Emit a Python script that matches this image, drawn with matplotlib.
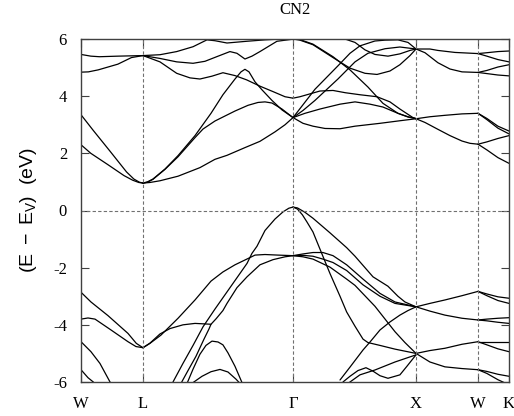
import numpy as np
import matplotlib
matplotlib.use("Agg")
import matplotlib.pyplot as plt

plt.rcParams["mathtext.fontset"] = "custom"
plt.rcParams["mathtext.rm"] = "Liberation Sans"
plt.rcParams["mathtext.it"] = "Liberation Sans:italic"

# ---- high-symmetry path ----
sym_k = [0.0, 0.504, 1.724, 2.724, 3.228, 3.48]
sym_labels = ["W", "L", "Γ", "X", "W", "K"]
y_ticks = [-6, -4, -2, 0, 2, 4, 6]
title = "CN2"
y_label = r"$\mathrm{(E\ -\ E_V)\ \ (eV)}$"

# ---- conduction bands (k, E) ----
cb_wl_1_k = [0.0, 0.08, 0.15, 0.30, 0.504]
cb_wl_1_e = [5.46, 5.40, 5.38, 5.40, 5.42]
cb_wl_2_k = [0.0, 0.06, 0.14, 0.30, 0.41, 0.504]
cb_wl_2_e = [4.84, 4.85, 4.92, 5.12, 5.35, 5.42]
cb_wl_3_k = [0.0, 0.10, 0.235, 0.37, 0.43, 0.475, 0.504]
cb_wl_3_e = [3.35, 2.80, 2.08, 1.35, 1.10, 0.99, 0.96]
cb_wl_4_k = [0.0, 0.08, 0.22, 0.35, 0.42, 0.47, 0.504]
cb_wl_4_e = [2.30, 2.00, 1.60, 1.22, 1.06, 0.98, 0.96]

cb_lg_1_k = [0.504, 0.642, 0.778, 0.911, 1.024, 1.089, 1.187, 1.347, 1.496, 1.724]
cb_lg_1_e = [5.42, 5.45, 5.56, 5.73, 5.97, 5.94, 5.86, 5.92, 5.97, 6.02]
cb_lg_2_k = [0.504, 0.642, 0.778, 0.911, 1.008, 1.103, 1.211, 1.268, 1.333, 1.390, 1.455, 1.593, 1.699, 1.724]
cb_lg_2_e = [5.42, 5.32, 5.20, 5.15, 5.22, 5.38, 5.56, 5.50, 5.30, 5.40, 5.56, 5.92, 5.98, 6.00]
cb_lg_3_k = [0.504, 0.642, 0.778, 0.886, 0.967, 1.065, 1.154, 1.252, 1.347, 1.455, 1.561, 1.659, 1.724]
cb_lg_3_e = [5.42, 5.20, 4.80, 4.64, 4.60, 4.70, 4.82, 4.72, 4.57, 4.35, 4.16, 3.98, 3.93]
cb_lg_4_k = [0.504, 0.54, 0.585, 0.683, 0.789, 0.927, 1.057, 1.154, 1.252, 1.301, 1.333, 1.366, 1.415, 1.472, 1.553, 1.634, 1.724]
cb_lg_4_e = [0.96, 1.00, 1.10, 1.45, 1.92, 2.62, 3.40, 4.05, 4.60, 4.85, 4.94, 4.85, 4.50, 4.22, 3.85, 3.52, 3.25]
cb_lg_5_k = [0.504, 0.54, 0.585, 0.683, 0.789, 0.927, 0.992, 1.089, 1.154, 1.252, 1.358, 1.439, 1.496, 1.553, 1.634, 1.724]
cb_lg_5_e = [0.96, 0.99, 1.09, 1.44, 1.88, 2.55, 2.85, 3.13, 3.27, 3.48, 3.68, 3.78, 3.80, 3.76, 3.55, 3.25]
cb_lg_6_k = [0.504, 0.56, 0.642, 0.789, 0.967, 1.089, 1.187, 1.333, 1.455, 1.577, 1.659, 1.724]
cb_lg_6_e = [0.96, 0.98, 1.04, 1.20, 1.50, 1.79, 1.93, 2.20, 2.42, 2.75, 3.00, 3.25]

cb_gx_1_k = [1.724, 1.78, 1.886, 2.049, 2.187, 2.333, 2.455, 2.577, 2.659, 2.724]
cb_gx_1_e = [6.02, 5.98, 5.82, 5.38, 4.92, 4.32, 3.75, 3.40, 3.27, 3.22]
cb_gx_2_k = [1.724, 1.78, 1.886, 2.049, 2.187, 2.309, 2.407, 2.512, 2.593, 2.675, 2.724]
cb_gx_2_e = [6.00, 5.96, 5.80, 5.35, 4.98, 4.80, 4.76, 4.88, 5.10, 5.42, 5.65]
cb_gx_3_k = [1.724, 1.78, 1.943, 2.049, 2.150, 2.268, 2.407, 2.512, 2.593, 2.699, 2.724]
cb_gx_3_e = [3.93, 3.98, 4.18, 4.20, 4.12, 4.05, 3.98, 3.80, 3.55, 3.25, 3.21]
cb_gx_4_k = [1.724, 1.821, 1.943, 2.106, 2.228, 2.350, 2.455, 2.577, 2.659, 2.724]
cb_gx_4_e = [3.25, 3.40, 3.55, 3.72, 3.80, 3.72, 3.62, 3.40, 3.28, 3.21]
cb_gx_5_k = [1.724, 1.805, 1.886, 1.984, 2.106, 2.228, 2.431, 2.593, 2.724]
cb_gx_5_e = [3.25, 3.05, 2.95, 2.87, 2.86, 2.95, 3.05, 3.14, 3.21]
cb_gx_6_k = [1.724, 1.805, 1.902, 2.089, 2.187, 2.268, 2.390, 2.472, 2.577, 2.659, 2.724]
cb_gx_6_e = [3.25, 3.70, 4.24, 5.06, 5.50, 5.76, 5.93, 5.96, 5.97, 5.88, 5.65]
cb_gx_7_k = [1.724, 1.805, 1.902, 2.089, 2.228, 2.333, 2.472, 2.593, 2.724]
cb_gx_7_e = [3.25, 3.50, 3.85, 4.60, 5.20, 5.50, 5.66, 5.72, 5.65]
cb_gx_8_k = [2.065, 2.146, 2.228, 2.309, 2.390, 2.496, 2.593, 2.675, 2.724]
cb_gx_8_e = [6.05, 6.00, 5.88, 5.62, 5.46, 5.40, 5.48, 5.60, 5.65]

cb_xw_1_k = [2.724, 2.837, 2.902, 3.041, 3.228]
cb_xw_1_e = [5.65, 5.65, 5.60, 5.53, 5.49]
cb_xw_2_k = [2.724, 2.797, 2.902, 3.0, 3.098, 3.228]
cb_xw_2_e = [5.65, 5.52, 5.17, 4.95, 4.85, 4.83]
cb_xw_3_k = [2.724, 2.837, 2.959, 3.098, 3.228]
cb_xw_3_e = [3.21, 3.28, 3.33, 3.38, 3.40]
cb_xw_4_k = [2.724, 2.797, 2.902, 3.0, 3.098, 3.163, 3.228]
cb_xw_4_e = [3.21, 3.08, 2.84, 2.62, 2.43, 2.35, 2.32]

wk_k = [3.228, 3.30, 3.39, 3.48]
cb_wk_1_e = [5.49, 5.52, 5.56, 5.58]
cb_wk_2_e = [5.49, 5.40, 5.28, 5.20]
cb_wk_3_e = [4.83, 4.90, 5.02, 5.10]
cb_wk_4_e = [4.83, 4.79, 4.74, 4.71]
cb_wk_5_e = [3.40, 3.22, 2.95, 2.78]
cb_wk_6_e = [3.40, 3.18, 2.88, 2.68]
cb_wk_7_e = [2.32, 2.40, 2.52, 2.62]
cb_wk_8_e = [2.32, 2.12, 1.85, 1.65]

# ---- valence bands (k, E) ----
vb_wl_1_k = [0.0, 0.081, 0.22, 0.382, 0.45, 0.504]
vb_wl_1_e = [-2.86, -3.20, -3.68, -4.30, -4.65, -4.80]
vb_wl_2_k = [0.0, 0.057, 0.114, 0.244, 0.382, 0.447, 0.504]
vb_wl_2_e = [-3.80, -3.76, -3.80, -4.18, -4.59, -4.76, -4.80]
vb_wl_3_k = [0.0, 0.081, 0.154, 0.236, 0.27]
vb_wl_3_e = [-4.59, -4.94, -5.35, -6.0, -6.2]
vb_wl_4_k = [0.0, 0.057, 0.10, 0.12]
vb_wl_4_e = [-5.57, -5.85, -6.0, -6.1]

vb_lg_1_k = [0.504, 0.56, 0.65, 0.789, 0.927, 1.057, 1.154, 1.252, 1.358, 1.415, 1.496, 1.60, 1.724]
vb_lg_1_e = [-4.80, -4.65, -4.36, -3.77, -3.13, -2.47, -2.15, -1.90, -1.68, -1.56, -1.54, -1.56, -1.58]
vb_lg_2_k = [0.504, 0.561, 0.642, 0.724, 0.829, 0.927, 1.016, 1.057, 1.10, 1.154, 1.187, 1.268, 1.350, 1.455, 1.561, 1.659, 1.724]
vb_lg_2_e = [-4.80, -4.64, -4.32, -4.13, -4.00, -3.95, -3.97, -3.98, -3.78, -3.50, -3.25, -2.70, -2.32, -1.90, -1.72, -1.62, -1.58]
vb_lg_3_k = [0.748, 0.829, 0.911, 0.992, 1.089, 1.195, 1.293, 1.350, 1.390, 1.431, 1.496, 1.577, 1.642, 1.69, 1.724]
vb_lg_3_e = [-6.0, -5.35, -4.72, -4.07, -3.45, -2.80, -2.20, -1.85, -1.50, -1.25, -0.70, -0.30, -0.05, 0.08, 0.12]
vb_lg_4_k = [0.819, 0.870, 0.935, 1.0, 1.04, 1.057]
vb_lg_4_e = [-6.0, -5.6, -5.1, -4.5, -4.15, -3.98]
vb_lg_5_k = [0.862, 0.911, 0.967, 1.016, 1.065, 1.114, 1.154, 1.195, 1.252, 1.309]
vb_lg_5_e = [-6.05, -5.55, -5.03, -4.72, -4.57, -4.60, -4.70, -4.98, -5.45, -6.02]
vb_lg_6_k = [0.911, 0.984, 1.057, 1.130, 1.195, 1.260, 1.293]
vb_lg_6_e = [-6.02, -5.80, -5.64, -5.56, -5.65, -5.90, -6.05]

vb_gx_1_k = [1.724, 1.76, 1.82, 1.886, 2.024, 2.160, 2.228, 2.374, 2.496, 2.577, 2.634, 2.724]
vb_gx_1_e = [0.12, 0.09, -0.06, -0.27, -0.78, -1.30, -1.60, -2.32, -2.65, -3.00, -3.20, -3.37]
vb_gx_2_k = [1.724, 1.76, 1.80, 1.837, 1.886, 1.943, 2.024, 2.106, 2.160, 2.228, 2.293, 2.333, 2.431, 2.553, 2.724]
vb_gx_2_e = [0.12, 0.05, -0.15, -0.40, -0.75, -1.35, -2.20, -3.00, -3.55, -4.05, -4.50, -4.62, -4.72, -4.85, -5.00]
vb_gx_3_k = [1.724, 1.805, 1.886, 1.967, 2.049, 2.160, 2.293, 2.431, 2.553, 2.724]
vb_gx_3_e = [-1.58, -1.52, -1.47, -1.47, -1.58, -1.90, -2.40, -2.90, -3.20, -3.37]
vb_gx_4_k = [1.724, 1.805, 1.886, 1.967, 2.049, 2.160, 2.293, 2.431, 2.553, 2.724]
vb_gx_4_e = [-1.58, -1.57, -1.60, -1.70, -1.82, -2.10, -2.60, -3.00, -3.25, -3.37]
vb_gx_5_k = [1.724, 1.805, 1.886, 2.024, 2.160, 2.228, 2.390, 2.553, 2.634, 2.724]
vb_gx_5_e = [-1.58, -1.62, -1.70, -1.98, -2.40, -2.62, -3.35, -4.24, -4.62, -5.00]
vb_gx_6_k = [2.106, 2.187, 2.293, 2.350, 2.431, 2.512, 2.593, 2.659, 2.724]
vb_gx_6_e = [-5.93, -5.48, -4.88, -4.60, -4.18, -3.90, -3.66, -3.50, -3.37]
vb_gx_7_k = [2.130, 2.187, 2.252, 2.317, 2.374, 2.431, 2.496, 2.593, 2.650, 2.724]
vb_gx_7_e = [-6.0, -5.80, -5.60, -5.50, -5.62, -5.78, -5.87, -5.75, -5.45, -5.05]
vb_gx_8_k = [2.171, 2.268, 2.390, 2.553, 2.724]
vb_gx_8_e = [-6.05, -5.75, -5.58, -5.30, -5.05]

vb_xw_1_k = [2.724, 2.837, 2.959, 3.098, 3.228]
vb_xw_1_e = [-3.37, -3.25, -3.13, -2.98, -2.83]
vb_xw_2_k = [2.724, 2.837, 2.959, 3.098, 3.228]
vb_xw_2_e = [-3.37, -3.52, -3.66, -3.77, -3.83]
vb_xw_3_k = [2.724, 2.837, 2.959, 3.098, 3.228]
vb_xw_3_e = [-5.00, -4.90, -4.82, -4.68, -4.59]
vb_xw_4_k = [2.724, 2.837, 2.959, 3.098, 3.228]
vb_xw_4_e = [-5.00, -5.30, -5.47, -5.53, -5.57]

vb_wk_1_e = [-2.83, -2.92, -3.02, -3.07]
vb_wk_2_e = [-2.83, -2.98, -3.15, -3.25]
vb_wk_3_e = [-3.83, -3.80, -3.77, -3.75]
vb_wk_4_e = [-3.83, -3.86, -3.91, -3.95]
vb_wk_5_e = [-4.59, -4.59, -4.59, -4.59]
vb_wk_6_e = [-4.59, -4.70, -4.84, -4.94]
vb_wk_7_e = [-5.57, -5.63, -5.73, -5.80]
vb_wk_8_e = [-5.57, -5.70, -5.92, -6.10]

g = globals()
bands = []
for name in sorted(n for n in list(g) if (n.startswith("cb_") or n.startswith("vb_")) and n.endswith("_e")):
    base = name[:-2]
    kk = g.get(base + "_k", wk_k)
    bands.append((kk, g[name]))

# ---- figure ----
W, H = 514, 416
fig = plt.figure(figsize=(W / 100, H / 100), dpi=100)
ax = fig.add_axes([81 / W, 1 - 382 / H, 428 / W, 343 / H])

for kk, ee in bands:
    ax.plot(kk, ee, color="black", lw=0.9, solid_joinstyle="round", solid_capstyle="round")

grid_kw = dict(color="#707070", lw=0.8, ls=(0, (3, 2)))
for kk in sym_k[1:-1]:
    ax.axvline(kk, **grid_kw)
ax.axhline(0, **grid_kw)

ax.set_xlim(sym_k[0], sym_k[-1])
ax.set_ylim(-6, 6)
ax.set_xticks(sym_k)
ax.set_xticklabels(sym_labels)
ax.set_yticks(y_ticks)
ax.set_yticklabels([str(t) for t in y_ticks])
ax.tick_params(axis="both", direction="in", length=6, width=0.8, color="#404040",
               top=True, right=True, labelsize=12, pad=10)
for lab in ax.get_xticklabels() + ax.get_yticklabels():
    lab.set_fontfamily("Liberation Serif")
for s in ax.spines.values():
    s.set_color("#404040")
    s.set_linewidth(1.0)

ax.set_title(title, fontfamily="Liberation Serif", fontsize=12, pad=18)
ax.set_ylabel(y_label, fontsize=14, labelpad=10)

fig.savefig("out.png", dpi=100)
